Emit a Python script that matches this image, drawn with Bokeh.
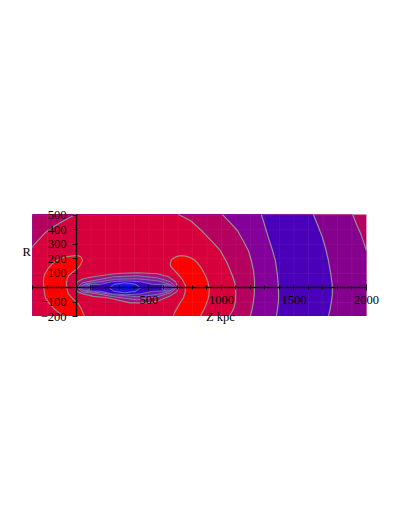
from bokeh.plotting import figure
from bokeh.models import LinearAxis, FixedTicker, Label, Range1d
from bokeh.embed import file_html
from bokeh.resources import INLINE

x_major = [500, 1000, 1500, 2000]
x_minor = [-300, -200, -100, 0, 100, 200, 300, 400, 600, 700, 800, 900, 1100, 1200, 1300, 1400, 1600, 1700, 1800, 1900]
y_major = [-200, -100, 0, 100, 200, 300, 400, 500]
y_labels = {-200: "\u2212200", -100: "\u2212100", 0: "", 100: "100", 200: "200", 300: "300", 400: "400", 500: "500"}

# field limits of the picture
z_min, z_max = -303, 2000
r_min, r_max = -194, 505

# contour levels, outermost first: (Z, R) points
a_x = [1905, 1935, 1960, 1982, 2000, 2000, -303, -303]
a_y = [505, 430, 375, 310, 256, -194, -194, 505]
b_x = [1634, 1665, 1697, 1720, 1738, 1755, 1766, 1765, 1759, 1750, 1738, -303, -303]
b_y = [505, 430, 346, 265, 187, 90, 0, -50, -90, -145, -194, -194, 505]
c_x = [1276, 1300, 1324, 1350, 1372, 1386, 1393, 1394, 1393, 1387, 1379, -303, -303]
c_y = [505, 425, 346, 265, 187, 90, 0, -50, -90, -145, -194, -194, 505]
d_x = [1007, 1060, 1110, 1150, 1186, 1207, 1221, 1228, 1228, 1226, 1221, 1212, 1200, -303, -303]
d_y = [505, 450, 395, 325, 256, 185, 118, 50, 0, -50, -90, -145, -194, -194, 505]
e_x = [-303, -297, -255, -214, -160, -110, -55, -7, 703, 745, 786, 830, 876, 935, 993, 1040, 1076, 1092, 1097, 1099, 1097, 1088, 1076, 1055, -303]
e_y = [277, 291, 337, 381, 420, 450, 480, 505, 505, 485, 464, 425, 381, 320, 256, 170, 83, 35, 0, -45, -90, -130, -160, -194, -194]

red_left_x = [-228, -224, -214, -198, -179, -160, -138, -115, -90, -50, -7, 18, 34, 41, 30, 14, -20, -55, -65, -69, -65, -55, -22, 14, 34, 48, 55, -90, -125, -159, -190, -214, -224]
red_left_y = [48, 78, 104, 130, 152, 172, 187, 199, 208, 217, 222, 220, 211, 187, 162, 139, 112, 83, 56, 28, -8, -42, -78, -111, -145, -180, -194, -194, -168, -139, -105, -69, -10]
red_right_x = [648, 657, 676, 695, 717, 752, 786, 812, 834, 865, 890, 907, 917, 914, 903, 882, 855, 669, 675, 683, 708, 738, 750, 752, 730, 697, 670, 648]
red_right_y = [173, 195, 208, 217, 222, 218, 208, 193, 173, 130, 83, 40, -7, -50, -90, -145, -194, -194, -175, -159, -115, -69, -28, 14, 58, 97, 125, 152]

g1_x = [-7, 7, 48, 117, 214, 303, 421, 559, 634, 683, 703, 690, 648, 566, 490, 372, 214, 117, 48, 7]
g1_y = [0, 42, 62, 76, 90, 100, 104, 97, 76, 42, 0, -28, -55, -90, -104, -104, -69, -59, -42, -28]
g2_x = [7, 41, 145, 255, 421, 559, 648, 690, 648, 559, 421, 255, 145, 41]
g2_y = [0, 35, 55, 76, 83, 69, 42, 0, -35, -62, -83, -62, -42, -28]
g3_x = [21, 62, 166, 269, 421, 559, 634, 676, 634, 559, 421, 269, 166, 62]
g3_y = [0, 28, 42, 59, 62, 48, 28, 0, -28, -45, -62, -48, -35, -24]
g4_x = [28, 69, 166, 248, 338, 441, 524, 621, 662, 621, 524, 441, 338, 248, 166, 69]
g4_y = [0, 21, 24, 42, 48, 42, 24, 21, 0, -21, -24, -42, -48, -42, -24, -21]
g5_x = [227, 258, 334, 410, 441, 410, 334, 258]
g5_y = [0, 24, 35, 24, 0, -24, -35, -24]
g6_x = [290, 310, 352, 394, 414, 394, 352, 310]
g6_y = [0, 12, 16, 12, 0, -12, -16, -12]
knot_l_x = [28, 39, 66, 93, 104, 93, 66, 39]
knot_l_y = [0, 15, 22, 15, 0, -15, -22, -15]
knot_r_x = [587, 599, 628, 657, 669, 657, 628, 599]
knot_r_y = [0, 17, 24, 17, 0, -17, -24, -17]

layers = [
    (a_x, a_y, "#86008e", "#929292", 1.2),
    (b_x, b_y, "#4a00b8", "#929292", 1.2),
    (c_x, c_y, "#84009a", "#929292", 1.2),
    (d_x, d_y, "#b4005e", "#929292", 1.2),
    (e_x, e_y, "#d8003c", "#929292", 1.2),
    (red_left_x, red_left_y, "#ff0000", "#a88484", 1.2),
    (red_right_x, red_right_y, "#ff0000", "#a88484", 1.2),
    (g1_x, g1_y, "#a4107a", "#8c888c", 1.1),
    (g2_x, g2_y, "#8a209c", "#8a7aa0", 1.0),
    (g3_x, g3_y, "#6a18b4", "#7a70a8", 1.0),
    (g4_x, g4_y, "#3c00cc", "#7068b8", 1.0),
    (knot_l_x, knot_l_y, "#7a30b0", "#7878b0", 0.9),
    (knot_r_x, knot_r_y, "#7a30b0", "#7878b0", 0.9),
    (g5_x, g5_y, "#2a10e0", "#5a70e0", 1.0),
    (g6_x, g6_y, "#0010ff", None, 0),
]

# the frame fills the whole figure so that tick labels outside the field are not clipped
p = figure(width=400, height=520, output_backend="svg", toolbar_location=None,
           x_range=Range1d(-523.7, 2234.9), y_range=Range1d(-1604.8, 1981.4),
           x_axis_location=None, y_axis_location=None,
           min_border_left=0, min_border_right=0, min_border_top=0, min_border_bottom=0,
           background_fill_color="white", border_fill_color="white", outline_line_color=None)
p.xgrid.visible = False
p.ygrid.visible = False

p.quad(left=[z_min], right=[z_max], bottom=[r_min], top=[r_max], fill_color="#b4005e", line_color=None)


def on_edge(x, y):
    return x in (z_min, z_max) or y in (r_min, r_max)


for xs, ys, col, line_col, line_w in layers:
    p.patch(xs, ys, fill_color=col, line_color=None)
    if line_col is None:
        continue
    lx, ly = [], []
    n = len(xs)
    for i in range(n):
        j = (i + 1) % n
        if on_edge(xs[i], ys[i]) and on_edge(xs[j], ys[j]):
            lx.append(float("nan"))
            ly.append(float("nan"))
            continue
        lx += [xs[i], xs[j]]
        ly += [ys[i], ys[j]]
    p.line(lx, ly, line_color=line_col, line_width=line_w, line_join="round")

for t in x_major + x_minor:
    if t >= z_min:
        p.segment([t], [r_min], [t], [r_max], line_color="white", line_alpha=0.05, line_width=1)
for t in y_major:
    if r_min <= t <= r_max:
        p.segment([z_min], [t], [z_max], [t], line_color="white", line_alpha=0.05, line_width=1)

xax = LinearAxis(fixed_location=0, ticker=FixedTicker(ticks=x_major, minor_ticks=x_minor), bounds=(z_min, z_max))
yax = LinearAxis(fixed_location=0, ticker=FixedTicker(ticks=y_major), major_label_overrides=y_labels, bounds=(-200, r_max))
for ax in (xax, yax):
    ax.axis_line_color = "#111111"
    ax.axis_line_width = 1.4
    ax.major_tick_line_color = "#111111"
    ax.minor_tick_line_color = "#111111"
    ax.major_label_text_font = "Liberation Serif"
    ax.major_label_text_font_size = "12.5px"
    ax.major_label_text_color = "#000000"
xax.major_tick_in = 3
xax.major_tick_out = 3
xax.minor_tick_in = 2
xax.minor_tick_out = 2
xax.major_label_standoff = 5
yax.major_tick_in = 1
yax.major_tick_out = 4
yax.minor_tick_in = 0
yax.minor_tick_out = 0
yax.major_label_standoff = 6
p.add_layout(xax, "below")
p.add_layout(yax, "left")

for txt, lx, ly in (("R", -344, 250), ("Z kpc", 993, -198)):
    p.add_layout(Label(x=lx, y=ly, text=txt, text_font="Liberation Serif", text_font_size="12.5px",
                       text_color="#000000", text_align="center", text_baseline="middle"))

open("out.html", "w").write(file_html(p, INLINE))
